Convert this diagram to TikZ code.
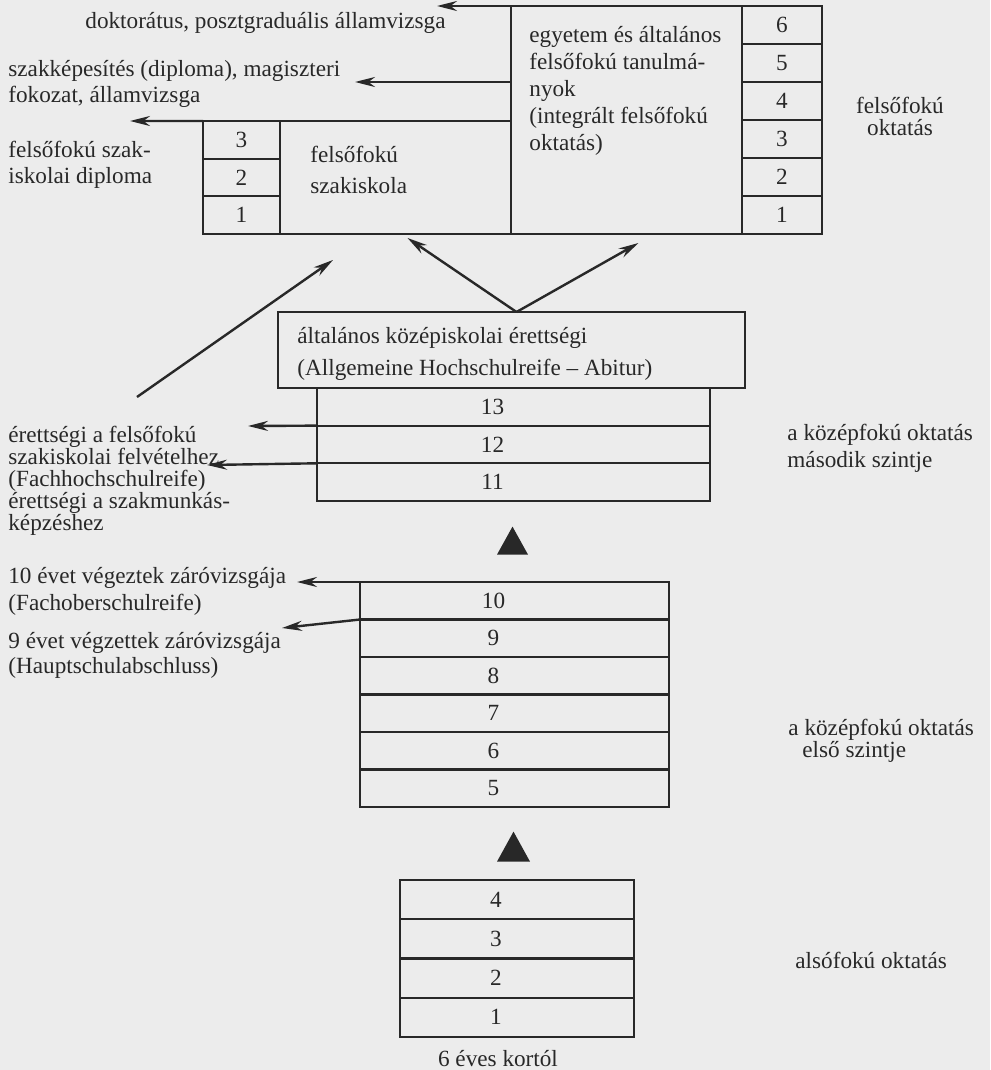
\documentclass[tikz,border=0pt]{standalone}
\usepackage{fontspec}
\setmainfont{Liberation Serif}
\usetikzlibrary{positioning,shapes.geometric,arrows.meta}
\definecolor{paper}{RGB}{236,236,236}
\definecolor{ink}{RGB}{40,40,40}

\begin{document}
\begin{tikzpicture}[x=0.5pt,y=-0.5pt]

  % Definitions
  \tikzstyle{cell} = [rectangle, draw=ink, line width=1.1pt, inner sep=0pt, outer sep=0pt, text=ink, font=\fontsize{11.6}{13}\selectfont]
  \tikzstyle{lcell} = [cell, execute at end node={\hspace*{21pt}}]
  \tikzstyle{ucell} = [cell, minimum width=40pt, minimum height=19pt]
  \tikzstyle{fcell} = [cell, minimum width=38.5pt, minimum height=18.83pt]
  \tikzstyle{acell} = [lcell, minimum width=196.5pt, minimum height=18.83pt]
  \tikzstyle{bcell} = [lcell, minimum width=154.5pt, minimum height=18.75pt]
  \tikzstyle{ccell} = [lcell, minimum width=117pt, minimum height=19.62pt]
  \tikzstyle{txt} = [inner sep=0pt, text=ink, align=left, anchor=base west, font=\fontsize{11.6}{13}\selectfont]
  \tikzstyle{arrow} = [draw=ink, line width=1.2pt, -{Stealth[length=10pt,width=5pt]}]
  \tikzstyle{wedge} = [isosceles triangle, isosceles triangle stretches, shape border rotate=90, fill=ink, inner sep=0pt, anchor=south]

  \fill[paper] (0,0) rectangle (990,1070);
  \useasboundingbox (0,0) rectangle (990,1070);

  % university (last line of a text block sits at its node)
  \node (u6) [ucell] at (782,25) {6};
  \node (u5) [ucell, below=0pt of u6] {5};
  \node (u4) [ucell, below=0pt of u5] {4};
  \node (u3) [ucell, below=0pt of u4] {3};
  \node (u2) [ucell, below=0pt of u3] {2};
  \node (u1) [ucell, below=0pt of u2] {1};
  \node (uni) [cell, minimum width=115.5pt, minimum height=114pt, anchor=north east] at (u6.north west) {};
  \node (unitxt) [txt, font=\fontsize{11.6}{13.4}\selectfont] at (529,150) {egyetem és általános\\felsőfokú tanulmá-\\nyok\\(integrált felsőfokú\\oktatás)};

  % Fachhochschule
  \node (f3) [fcell] at (241.5,139.8) {3};
  \node (f2) [fcell, below=0pt of f3] {2};
  \node (f1) [fcell, below=0pt of f2] {1};
  \node (fh) [cell, minimum width=115.5pt, minimum height=56.5pt, anchor=north west] at (f3.north east) {};
  \node (fhtxt) [txt, font=\fontsize{11.6}{15.5}\selectfont] at (310,193) {felsőfokú\\szakiskola};

  % Abitur
  \node (abi) [cell, minimum width=233.5pt, minimum height=38pt] at (511.5,350) {};
  \node (abitxt) [txt, font=\fontsize{11.6}{16}\selectfont] at (297,375) {általános középiskolai érettségi\\(Allgemeine Hochschulreife -- Abitur)};
  \node (a13) [acell] at (513.5,406.8) {13};
  \node (a12) [acell, below=0pt of a13] {12};
  \node (a11) [acell, below=0pt of a12] {11};

  % first level
  \node (t1) [wedge, minimum width=15.5pt, minimum height=14pt] at (512.5,555) {};
  \node (b10) [bcell] at (514.5,600.75) {10};
  \node (b9) [bcell, below=0pt of b10] {9};
  \node (b8) [bcell, below=0pt of b9] {8};
  \node (b7) [bcell, below=0pt of b8] {7};
  \node (b6) [bcell, below=0pt of b7] {6};
  \node (b5) [bcell, below=0pt of b6] {5};

  % primary
  \node (t2) [wedge, minimum width=16.5pt, minimum height=15pt] at (513.5,862) {};
  \node (c4) [ccell] at (517,899.6) {4};
  \node (c3) [ccell, below=0pt of c4] {3};
  \node (c2) [ccell, below=0pt of c3] {2};
  \node (c1) [ccell, below=0pt of c2] {1};

  % labels
  \node (ldok) [txt] at (85,29) {doktorátus, posztgraduális államvizsga};
  \node (lszak) [txt] at (8,103) {szakképesítés (diploma), magiszteri\\fokozat, államvizsga};
  \node (lfdip) [txt] at (8,183) {felsőfokú szak-\\iskolai diploma};
  \node (lfelso) [txt, align=center, anchor=base, font=\fontsize{11.6}{11}\selectfont] at (900,135) {felsőfokú\\oktatás};
  \node (lsek2) [txt, font=\fontsize{11.6}{13.5}\selectfont] at (787,467) {a középfokú oktatás\\második szintje};
  \node (lfhr) [txt, font=\fontsize{11.6}{10.9}\selectfont] at (8,530) {érettségi a felsőfokú\\szakiskolai felvételhez\\(Fachhochschulreife)\\érettségi a szakmunkás-\\képzéshez};
  \node (lfob) [txt, font=\fontsize{11.6}{13.5}\selectfont] at (8,610) {10 évet végeztek záróvizsgája\\(Fachoberschulreife)};
  \node (lhaupt) [txt, font=\fontsize{11.6}{12.5}\selectfont] at (8,673) {9 évet végzettek záróvizsgája\\(Hauptschulabschluss)};
  \node (lsek1) [txt, font=\fontsize{11.6}{11}\selectfont] at (788,757) {a középfokú oktatás\\\hspace*{7pt}első szintje};
  \node (lalso) [txt] at (795,968) {alsófokú oktatás};
  \node (lkor) [txt, anchor=base] at (498,1066) {6 éves kortól};

  % arrows
  \coordinate (dok) at (437,6);
  \coordinate (szak) at (355,82);
  \coordinate (fdip) at (130,121);
  \coordinate (fhr) at (137,397);
  \coordinate (fhrtip) at (333,260);
  \coordinate (ffel) at (248,426);
  \coordinate (fszak) at (207,465);
  \coordinate (fob) at (297,582);
  \coordinate (haupt) at (282,628);

  \draw [arrow] (uni.north west) -- (dok);
  \draw [arrow] (uni.west |- u4.north) -- (szak);
  \draw [arrow] (f3.north west) -- (fdip);
  \draw [arrow] ([xshift=2.5pt]abi.north) -- ([xshift=6pt,yshift=-2pt]fh.south);
  \draw [arrow] ([xshift=2.5pt]abi.north) -- ([xshift=6pt,yshift=-4.5pt]uni.south);
  \draw [arrow] (fhr) -- (fhrtip);
  \draw [arrow] (a13.south west) -- (ffel);
  \draw [arrow] (a12.south west) -- (fszak);
  \draw [arrow] (b10.north west) -- (fob);
  \draw [arrow] (b10.south west) -- (haupt);

\end{tikzpicture}
\end{document}
